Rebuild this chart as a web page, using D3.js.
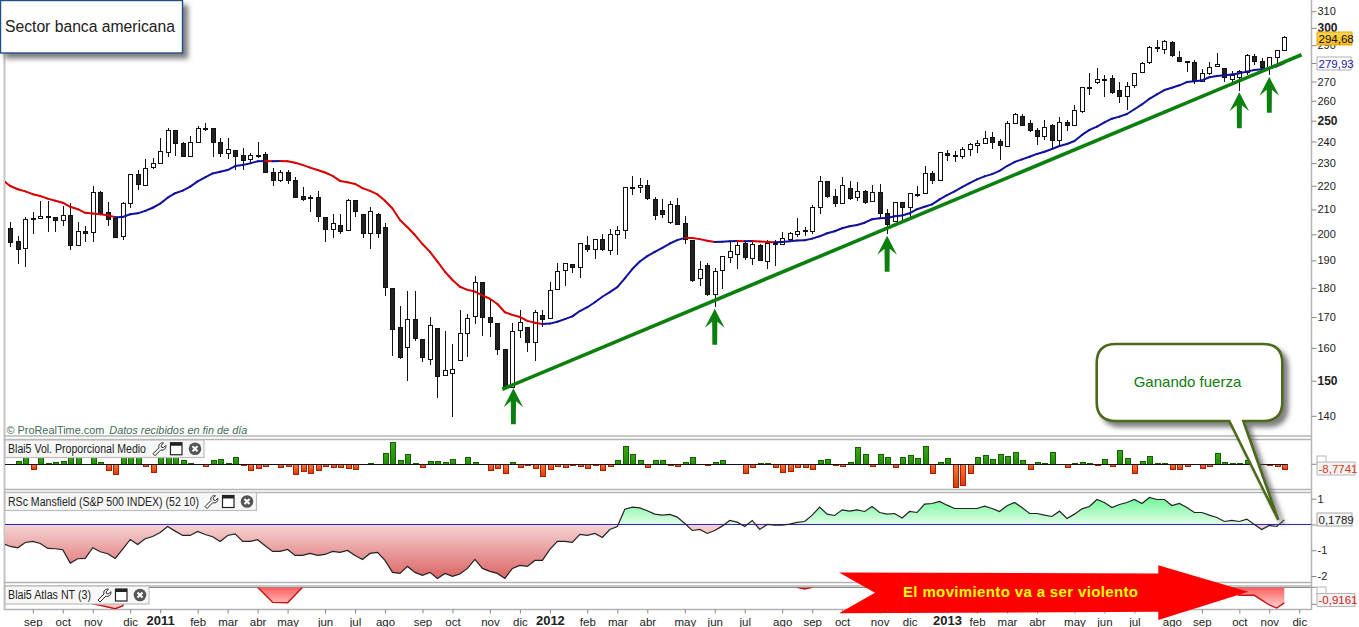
<!DOCTYPE html>
<html><head><meta charset="utf-8">
<script src="https://cdn.jsdelivr.net/npm/d3@7"></script>
<style>
html,body{margin:0;padding:0;background:#fff;overflow:hidden}
svg{display:block;font-family:"Liberation Sans",Arial,sans-serif}
</style></head><body><svg id="c" width="1359" height="627"></svg>
<script>
const opens=[202.4,197.3,194.4,206.4,206.2,207.2,206.8,205.6,207.6,195.9,
201.2,200.6,217.2,208.9,206.6,199.1,212.4,225,220.6,227.9,
229.9,235.2,245.4,239.1,232.9,239.6,246.5,246.3,239.6,234.5,
236.1,233.6,231.7,233.9,234,225.9,222.2,225.9,222.5,215.5,
215,215,206.8,202.2,203.6,201.4,213.8,208,200.2,208.2,
202.8,179.9,166.6,160.2,169.2,162.7,156.6,166.3,151.6,152.2,
156,164.6,170.2,182,169.9,167.9,159.5,148.2,165.9,166.6,
161.8,170.6,169.6,179.5,186.3,188.5,187.4,195.7,194.2,198.1,
193.8,200,201.6,219.5,219.4,220.2,214.2,209.7,204.8,211.7,
204.4,197.7,183.4,188.1,177.6,186.3,191.1,192.3,196.5,190.8,
195.7,189.6,196.5,196.1,198.1,200,201.6,201.2,210.9,221.9,
215.5,212.5,218.9,215,217.6,213.4,217.2,208.4,205.2,212.9,
210.9,216.5,216.8,225.4,222.4,234.5,233.6,233.1,236.3,238.2,
239.1,242,240.2,237.7,248.7,252.2,248.7,245.4,242.5,247.7,
240.6,249.2,247.7,254.7,266.9,269.6,271.2,271.7,265.3,262.3,
267.9,275,280.4,288.8,287.7,291.6,283.3,281,280.4,270.1,
274.4,278.2,277.1,271.2,272.3,275,283.8,281,277.1,283.3,
287.1];
const closes=[197.1,194.4,206,205.8,207.2,206.6,205.4,207.6,195.9,201.2,
200.6,217.2,208.6,206.2,199.1,212.5,225,220.6,227.9,229.9,
235.4,245.4,239.1,232.9,239.6,246.3,246.3,239.4,234.5,236.3,
233.4,231.4,233.6,233.5,225.7,222.2,225.9,222.2,215.3,214.3,
214.5,207.1,201.8,204.4,201.3,213.8,209.1,200.2,209.2,200.6,
180.4,166.1,157.2,169.2,162.9,157.2,167.3,151.2,153.1,153.4,
164.6,169.6,182,169.9,168.4,159.4,148.2,165.3,168.4,161.8,
171.6,169.1,179.2,185.9,188.9,187.4,196.5,194.2,198.1,194.2,
200,201.6,219.4,219.4,220.2,214.5,207.6,208.2,212.1,204.1,
198.1,182.8,186.7,177.6,185.9,191.5,193.4,195.7,191.1,196.1,
190,196.5,196.1,198.5,200.4,201.2,201.2,210.9,221.9,215.5,
212.5,220.2,214.6,217.6,212.9,217.2,208.4,204,212.9,210.9,
216.8,216.1,225.4,222.4,234.9,233.6,233.1,236.3,238.7,239.1,
241.5,239.6,238.2,248.7,253.2,247.7,245.4,242.5,246.8,240.6,
249.2,247.7,255.2,266.9,266.4,271.2,270.8,264.3,262.3,267.4,
274.4,279.9,288.8,288.3,292.1,284.4,281,280.4,270.1,274.4,
277.7,279.3,272.3,273.3,275.5,284.4,281,277.7,283.3,287.1,
294.68];
const highs=[204.8,199.4,206.8,209,213.5,213.5,206.8,211.4,212.5,204.9,
203.3,219.9,217.6,212.9,206.6,212.9,225,226.9,231.9,232.2,
241.5,246.3,245.4,239.9,242.6,247.4,248.7,246.3,241.5,241.5,
236.1,236.8,234.7,239.6,235.2,227.8,226.9,226.9,224,219.6,
216,217.8,206.8,208.2,208.2,214.2,213.8,208,210.9,208.4,
204.4,179.9,173.8,179,178.9,162.7,170,166.3,165.3,161.2,
172.3,170.9,184.1,182,175.8,167.9,159.5,167.9,172.3,166.6,
172.3,172.2,182,189.2,189.2,188.5,196.5,199.2,198.1,200,
202,203.3,219.4,224.3,223.2,222.4,215,214.2,213.4,214.6,
207.2,197.7,189.6,189.2,187,191.5,197.3,197.7,197.3,197.7,
196.1,197.7,197.7,200.8,200.8,206.4,202.8,211.7,224.1,221.9,
218.5,223.7,221.9,221.5,218.1,220.2,220.6,210.1,212.9,212.9,
216.8,219.8,228.5,226.3,234.9,235.9,235.4,237.3,239.1,240.6,
244.9,244.4,241,249.7,253.7,253.2,250.2,246.3,250.2,248.2,
251.7,250.2,257.7,266.9,274.4,277.1,273.3,273.3,269.6,269.6,
274.4,280.4,289.4,292.7,292.7,292.1,286.5,281,281.5,276.6,
280.4,285.4,277.1,275.5,276,284.9,284.9,282.7,283.3,287.1,
295.1];
const lows=[195.2,188.7,187.6,200.1,206.2,201,201,203.4,194,195.5,
197.1,197.1,208.4,203.4,199.1,197.9,210.7,218.3,220.6,227.3,
229.9,232.6,233.4,232.9,232.9,239.6,245.2,232.6,232.6,231.7,
226.9,226.9,230,232.2,225.7,220,221.6,220.9,214.8,213.6,
209.1,204.8,197.1,198.7,200.1,201.4,207.1,198.7,194.4,198.7,
177.3,157.5,156.6,150,162.3,155.7,154.8,145.1,151.6,139.8,
156,157.2,167.8,163.9,163.6,157.8,148.2,148.2,163,158.8,
156,166.6,169.6,179.5,180.8,185.2,183.6,193,190.4,193.4,
191.9,191.9,198.1,215.9,217,213.8,205.7,206.4,204,203.7,
196.1,182.2,180.8,177.3,173.3,179.7,189,186.9,190,188.4,
189.7,186.7,188,196.1,197.3,198.9,199.2,200,208,214.6,
210.9,212.5,213.8,213.4,212.1,213,206.4,200,205.2,205.6,
206.4,215,216.8,220.6,221.9,230.8,230.3,231.7,233.1,234.5,
238.7,236.3,231.3,237.3,248.2,247.3,244.4,238.2,240.6,236.8,
238.2,244.9,247.7,253.7,262.8,268.5,261.8,263.3,258.7,255.2,
266.4,274.4,279.3,286,284.9,283.3,280.4,275,268.5,270.1,
273.3,278.2,269.6,269,265.1,273.3,278.8,276.6,273.3,278.2,
287.1];
// moving average, first value belongs to the week before the first candle
const movingAvg=[222.3,219.9,218.5,217.6,216.4,215.6,214.5,213.6,212.8,211.1,210.1,
208.6,208.3,208,207.6,206.8,206.9,208,208.4,209.4,210.7,
212.4,214.9,216.8,217.9,219.6,221.9,223.7,225.4,226.1,226.9,
228.7,229.2,229.9,230.8,231,230.9,231,230.9,230.2,229.2,
228,226.9,225.8,224.3,222.1,221.5,220.8,219,217.8,216.3,
213.6,210.4,205.7,202.8,199.7,196.2,193.2,189.5,185.8,182.8,
180.4,179.3,178.7,177.4,176.2,174.4,171.6,170.7,170,168.7,
168.1,167.7,167.8,168.4,169.3,170.2,172,173.3,175,176.9,
178.5,180.3,183.4,186.8,189.6,191.6,193.2,194.7,196.4,197.7,
198.6,198.5,198.1,197.5,197,197.1,197.3,197.4,197.3,197.4,
197.2,197,196.9,197,197.3,197.6,197.7,198.3,199.2,200.4,
201.2,202.4,203.2,203.7,204.6,206,206.4,206.5,207.2,207.5,
208.4,210.1,211.1,212.1,214.2,216,217.6,219.4,221.1,222.8,
224.1,225.1,226.5,228.7,230.5,231.7,232.9,234.2,235.2,236.5,
237.9,238.8,240.2,243.1,245.5,247.1,249.2,251,252,253.3,
255.7,258.1,261,263.3,265.5,266.7,268,269.7,270.1,270.6,
272.3,273,273.3,273.7,274.4,275.3,276.2,276.6,277.1,278.2,
279.93];
const volume=[0,6.2,14,-9.3,14,2.5,4.4,5.6,14,14,
0,14,3.7,-11.8,-19.3,14,14,14,-4.4,-15.6,
14,14,14,7.5,2.5,0,-4.4,7.5,9.3,2.5,
13.1,-2.5,-11.2,-8.1,-4.4,0,-6.2,-4.4,-19.3,-13.7,
-17.4,-11.8,-4.4,-6.2,-6.2,-8.1,-10,0,2.5,0,
21.2,41.1,8.1,18.7,2.5,-6.2,6.2,6.2,4.4,9.3,
0,13.1,3.7,0,-11.8,-8.1,-17.4,3.7,-6.2,-1.9,
-7.5,-23,-10,-4.4,-6.2,-2.5,-4.4,-8.1,-2.5,-11.8,
-4.4,8.1,33.6,18.7,7.5,-6.2,7.5,7.5,-2.5,-4.4,
4.4,13.1,0,-2.5,3.7,7.5,0,0,-17.4,-6.2,
2.5,2.5,-6.2,-15.6,-13.7,-6.2,-6.2,-10,7.5,9.3,
-2.5,-4.4,3.7,32.4,18.7,-3.7,18.7,13.1,-6.2,13.1,
16.8,11.2,33.6,-17.4,3.7,11.2,-43.6,-39.9,-17.4,13.1,
16.8,9.3,18.7,15,22.4,7.5,-9.3,3.7,1.9,22.4,
0,-6.2,1.9,3.7,1.9,-1.9,9.3,-4.4,26.2,11.2,
-17.4,5.6,15,1.9,1.9,-9.3,-9.3,-3.7,0,-7.5,
-4.4,20.6,3.7,1.9,1.9,7.5,6,0,-1.9,-3.7,
-8.7741];
// RSc Mansfield, first value belongs to the week before the first candle
const mansfield=[-.736,-.853,-.904,-.698,-.659,-.736,-.93,-.943,-.982,-1.499,-1.331,
-1.318,-.904,-1.059,-1.137,-1.318,-.956,-.581,-.775,-.556,-.465,
-.31,-.078,-.258,-.426,-.426,-.271,-.388,-.478,-.659,-.426,
-.362,-.659,-.659,-.594,-.827,-1.047,-1.047,-.969,-1.202,-1.202,
-1.124,-1.202,-1.163,-1.047,-1.085,-1.008,-1.202,-1.357,-1.124,-1.085,
-1.395,-1.86,-1.899,-1.628,-1.86,-1.977,-1.86,-2.093,-1.899,-2.016,
-1.925,-1.705,-1.357,-1.705,-1.822,-1.899,-2.093,-1.705,-1.589,-1.628,
-1.395,-1.395,-.969,-.659,-.659,-.698,-.388,-.426,-.349,-.504,
-.194,-.078,.594,.672,.646,.53,.401,.362,.388,.284,
.039,-.233,-.194,-.349,-.233,-.065,.155,.09,-.078,.155,
-.194,0,-.026,-.026,.013,.078,.116,.362,.672,.401,
.349,.568,.517,.568,.504,.698,.465,.401,.426,.25,
.504,.465,.788,.814,.891,.749,.62,.62,.62,.62,
.711,.62,.504,.724,.853,.659,.426,.426,.362,.31,
.517,.233,.401,.607,.698,.969,.853,.659,.775,.853,
.969,.814,1.047,.969,.969,.736,.814,.659,.465,.465,
.362,.271,.116,.155,.116,.207,0,-.194,-.039,-.078,
.1789];
const atlasSpanA=[[10,0],[11,-.98],[12,-1.06],[13,-1.16],[14,-1.26],[15,-1.1],[16,0]];
const atlasSpanB=[[33,0],[34,-.44],[35,-.89],[36,-.9],[37,-.91],[38,-.45],[39,0]];
const atlasSpanC=[[105,0],[106,-.1],[107,0]];
const atlasSpanD=[[162,0],[163,-.3],[164,-.47],[165,-.47],[166,-.47],[167,-.75],[168,-1.04],[169,-1.22],[170,-.9161]];
const priceTicks=[140,150,160,170,180,190,200,210,220,230,240,250,260,270,280,290,300,310];
const boldPrices=[150,250,300];
const timeIndex=[3,7,11,16,20,25,29,33,37,42,46,50,55,59,64,68,72,77,81,85,90,94,98,103,107,111,116,120,125,129,133,137,142,146,150,155,159,164,168,172];
const timeLabels=["sep","oct","nov","dic","2011","feb","mar","abr","may","jun","jul","ago","sep","oct","nov","dic","2012","feb","mar","abr","may","jun","jul","ago","sep","oct","nov","dic","2013","feb","mar","abr","may","jun","jul","ago","sep","oct","nov","dic"];
const arrowCandles=[67,94,117,164,168];
const trendIndex=[65.65,172.3];
const trendPrice=[147.5,284.6];
const mansfieldTicks=[1,0,-1,-2];

const svg=d3.select("#c");
const defs=svg.append("defs");
const L=5,R=1311.5;
const x=d3.scaleLinear().domain([0,170]).range([10.3,1284.3]);
const y=d3.scaleLog().domain([150,300]).range([380.7,27.9]);
const yVol=d3.scaleLinear().domain([-44.3,45.4]).range([488,440]);
const yRS=d3.scaleLinear().domain([-2,1]).range([576,498.7]);
const yAt=d3.scaleLinear().domain([-1,0]).range([604.3,587.3]);

function lg(id,stops,y1,y2){const g=defs.append("linearGradient").attr("id",id);
 if(y1!==undefined){g.attr("gradientUnits","userSpaceOnUse").attr("x1",0).attr("x2",0).attr("y1",y1).attr("y2",y2)}
 else g.attr("x1",0).attr("x2",0).attr("y1",0).attr("y2",1);
 stops.forEach(s=>g.append("stop").attr("offset",s[0]).attr("stop-color",s[1]));}
const z=yRS(0),t=yRS(1.05),b=yRS(-2.1),off=(z-t)/(b-t);
lg("rs",[[0,"#6cf896"],[off,"#e4fde9"],[off,"#f6d4d4"],[1,"#dc6464"]],t,b);
lg("at",[[0,"#ff5c5c"],[1,"#ffd8d8"]],587.3,609);
lg("vg",[[0,"#3aa814"],[1,"#1f8a0a"]]);
lg("vr",[[0,"#ff7a30"],[1,"#d83a10"]]);
lg("gold",[[0,"#ffd850"],[1,"#f6b820"]]);
defs.append("clipPath").attr("id","pc").append("rect").attr("x",L).attr("y",0).attr("width",R-L).attr("height",437);
defs.append("clipPath").attr("id","rc").append("rect").attr("x",L).attr("y",493).attr("width",R-L).attr("height",90);
defs.append("clipPath").attr("id","ac").append("rect").attr("x",L).attr("y",587.5).attr("width",R-L).attr("height",22);
const sh=defs.append("filter").attr("id","sh").attr("x","-15%").attr("y","-15%").attr("width","135%").attr("height","135%");
sh.append("feDropShadow").attr("dx",5).attr("dy",5).attr("stdDeviation",2.5).attr("flood-color","#555").attr("flood-opacity",.75);

// panel frames
const frame="#b4b4b4";
function hl(yy,c,w){svg.append("line").attr("x1",L-1).attr("x2",R).attr("y1",yy).attr("y2",yy).attr("stroke",c||frame).attr("stroke-width",w||1.5);}
svg.append("rect").attr("x",3.5).attr("y",0).attr("width",2).attr("height",610).attr("fill","#c4c4c4");
[436,439.5,489.5,492.5,582.5,586].forEach(v=>hl(v));
hl(587.5,"#8c8c8c",1);hl(609.5);
svg.append("line").attr("x1",R).attr("x2",R).attr("y1",0).attr("y2",610).attr("stroke",frame).attr("stroke-width",1.5);

// y axis
const yAxis=d3.axisRight(y).tickValues(priceTicks).tickSize(5).tickFormat(d3.format("d"));
const gy=svg.append("g").attr("transform",`translate(${R},0)`).call(yAxis);
gy.select(".domain").remove();
gy.selectAll(".tick line").attr("stroke","#888");
gy.selectAll(".tick text").attr("x",6).attr("font-size",11).attr("font-family","Liberation Sans").attr("fill","#222")
  .attr("font-weight",d=>boldPrices.includes(d)?"bold":"normal").attr("font-size",d=>boldPrices.includes(d)?12:11);

// copyright
const cr=svg.append("text").attr("x",6.5).attr("y",434).attr("font-size",10.9).attr("fill","#3f6b55");
cr.append("tspan").text("© ProRealTime.com");
cr.append("tspan").attr("dx",5).attr("font-style","italic").text("Datos recibidos en fin de día");

// candles
const main=svg.append("g").attr("clip-path","url(#pc)");
const idx=d3.range(opens.length);
main.append("g").selectAll("line").data(idx).join("line")
 .attr("x1",i=>Math.round(x(i))+.5).attr("x2",i=>Math.round(x(i))+.5)
 .attr("y1",i=>y(highs[i])).attr("y2",i=>y(lows[i]))
 .attr("stroke","#111").attr("stroke-width",1).attr("shape-rendering","crispEdges");
main.append("g").selectAll("rect").data(idx).join("rect")
 .attr("x",i=>Math.round(x(i))-1.5).attr("width",4)
 .attr("y",i=>Math.round(y(Math.max(opens[i],closes[i])))+.5)
 .attr("height",i=>Math.max(1,Math.round(Math.abs(y(opens[i])-y(closes[i])))))
 .attr("fill",i=>closes[i]>opens[i]?"#fff":"#222")
 .attr("stroke","#111").attr("stroke-width",1).attr("shape-rendering","crispEdges");

// moving average coloured by direction
const maLine=d3.line().x(d=>x(d[0])).y(d=>y(d[1]));
main.append("g").selectAll("path").data(d3.range(1,movingAvg.length)).join("path")
 .attr("d",k=>maLine([[k-2,movingAvg[k-1]],[k-1,movingAvg[k]]]))
 .attr("fill","none").attr("stroke-width",2).attr("stroke-linecap","round")
 .attr("stroke",k=>movingAvg[k]>movingAvg[k-1]?"#10109c":"#d60000");

// trend line
svg.append("line").attr("x1",x(trendIndex[0])).attr("x2",x(trendIndex[1])).attr("y1",y(trendPrice[0])).attr("y2",y(trendPrice[1]))
 .attr("stroke","#0c800e").attr("stroke-width",3.6);
// up arrows, tip at the low of the candle
svg.append("g").selectAll("path").data(arrowCandles).join("path")
 .attr("d",i=>{const a=x(i)+(i==67?1:0),c=y(lows[i])+1.5;return `M${a},${c}L${a+9.8},${c+19}L${a+2.6},${c+13}L${a+2.4},${c+36}L${a-2.4},${c+36}L${a-2.6},${c+13}L${a-9.8},${c+19}Z`;})
 .attr("fill","#0c800e");

// volume
const vb=svg.append("g");
vb.selectAll("rect").data(idx.filter(i=>volume[i]!==0)).join("rect")
 .attr("x",i=>Math.round(x(i))-2).attr("width",5)
 .attr("y",i=>Math.round(Math.min(yVol(volume[i]),yVol(0)))+.5)
 .attr("height",i=>Math.max(1,Math.round(Math.abs(yVol(volume[i])-yVol(0)))))
 .attr("fill",i=>volume[i]>0?"url(#vg)":"url(#vr)")
 .attr("stroke",i=>volume[i]>0?"#136004":"#a82000").attr("stroke-width",1).attr("shape-rendering","crispEdges");
svg.append("line").attr("x1",L).attr("x2",x(170)+3).attr("y1",Math.round(yVol(0))+.5).attr("y2",Math.round(yVol(0))+.5).attr("stroke","#111").attr("stroke-width",1);

// Mansfield
const rs=svg.append("g").attr("clip-path","url(#rc)");
const rsA=d3.area().x((d,k)=>x(k-1)).y0(yRS(0)).y1(d=>yRS(d));
rs.append("path").attr("d",rsA(mansfield)).attr("fill","url(#rs)");
rs.append("line").attr("x1",L).attr("x2",R).attr("y1",yRS(0)).attr("y2",yRS(0)).attr("stroke","#2222c8").attr("stroke-width",1);
rs.append("path").attr("d",d3.line().x((d,k)=>x(k-1)).y(d=>yRS(d))(mansfield)).attr("fill","none").attr("stroke","#222").attr("stroke-width",1.2);
const gr=svg.append("g").attr("transform",`translate(${R},0)`).call(d3.axisRight(yRS).tickValues(mansfieldTicks).tickSize(5).tickFormat(d=>d===0?"":String(d)));
gr.select(".domain").remove();
gr.selectAll(".tick line").attr("stroke","#888");
gr.selectAll(".tick text").attr("x",6).attr("font-size",11).attr("font-family","Liberation Sans").attr("fill","#222");

// Atlas
const at=svg.append("g").attr("clip-path","url(#ac)");
[atlasSpanA,atlasSpanB,atlasSpanC,atlasSpanD].forEach(s=>{
 at.append("path").attr("d",d3.area().x(d=>x(d[0])).y0(yAt(0)).y1(d=>yAt(d[1]))(s)).attr("fill","url(#at)");
 at.append("path").attr("d",d3.line().x(d=>x(d[0])).y(d=>yAt(d[1]))(s)).attr("fill","none").attr("stroke","#c81010").attr("stroke-width",1.4);
});
svg.append("line").attr("x1",R).attr("x2",R+5).attr("y1",yAt(-1)).attr("y2",yAt(-1)).attr("stroke","#888");
svg.append("line").attr("x1",R).attr("x2",R+5).attr("y1",yAt(0)).attr("y2",yAt(0)).attr("stroke","#888");
svg.append("line").attr("x1",R).attr("x2",R+5).attr("y1",yVol(0)).attr("y2",yVol(0)).attr("stroke","#888");

// x axis
const gx=svg.append("g").attr("transform","translate(0,609.5)").call(d3.axisBottom(x).tickValues(timeIndex).tickSize(4).tickFormat((d,k)=>timeLabels[k]));
gx.select(".domain").remove();
gx.selectAll(".tick line").attr("stroke","#888");
gx.selectAll(".tick text").attr("font-family","Liberation Sans").attr("fill","#222")
 .attr("y",(d,k)=>/^\d/.test(timeLabels[k])?6:8)
 .attr("font-size",(d,k)=>/^\d/.test(timeLabels[k])?13:11.5)
 .attr("font-weight",(d,k)=>/^\d/.test(timeLabels[k])?"bold":"normal");

// legend boxes
function icons(g,ix,iy){
 const w=g.append("g").attr("transform",`translate(${ix},${iy})`);
 w.append("path").attr("d","M1,11.5L7,5.5C6,2.5 8.5,0 11.5,0.8L9,3.2L9.5,5L11.5,5.5L13.8,3.2C14.4,6.5 11.8,8.6 8.8,7.6L3,13.5Z").attr("fill","#fff").attr("stroke","#222").attr("stroke-width",1);
 const s=g.append("g").attr("transform",`translate(${ix+18},${iy})`);
 s.append("rect").attr("x",.5).attr("y",.5).attr("width",11.5).attr("height",12).attr("fill","#fff").attr("stroke","#222").attr("stroke-width",1.2);
 s.append("rect").attr("x",.5).attr("y",.5).attr("width",11.5).attr("height",3).attr("fill","#222");
 const c=g.append("g").attr("transform",`translate(${ix+43},${iy+6.5})`);
 c.append("circle").attr("r",6.3).attr("fill","#555");
 c.append("path").attr("d","M-2.5,-2.5L2.5,2.5M2.5,-2.5L-2.5,2.5").attr("stroke","#fff").attr("stroke-width",2);
}
function legend(txt,xr,yt,h,ix,tw){
 const g=svg.append("g");
 g.append("rect").attr("x",5).attr("y",yt).attr("width",xr-5).attr("height",h).attr("fill","#f7f7f7").attr("stroke","#bdbdbd").attr("stroke-width",1.2);
 g.append("text").attr("x",8).attr("y",yt+h/2+4.3).attr("font-size",12).attr("fill","#222").attr("textLength",tw).attr("lengthAdjust","spacingAndGlyphs").text(txt);
 icons(g,ix,yt+h/2-6.5);
}
legend("Blai5 Vol. Proporcional Medio",204,440,17.5,152,138);
legend("RSc Mansfield (S&P 500 INDEX) (52 10)",256.5,492.5,18,204,191);
legend("Blai5 Atlas NT (3)",149,586,18,97,83);

// value boxes
function vbox(txt,yt,w,fill,stroke,col){
 const g=svg.append("g");
 g.append("rect").attr("x",1317).attr("y",yt).attr("width",w).attr("height",13).attr("fill",fill).attr("stroke",stroke).attr("stroke-width",1);
 g.append("text").attr("x",1318.5).attr("y",yt+10.5).attr("font-size",11.5).attr("fill",col).text(txt);
}
svg.append("rect").attr("x",1317).attr("y",456).attr("width",9).attr("height",8).attr("fill","#fff").attr("stroke","#b4b4b4");
svg.append("rect").attr("x",1317).attr("y",587).attr("width",9).attr("height",8).attr("fill","#fff").attr("stroke","#b4b4b4");
vbox("294,68",32,35,"url(#gold)","#e0a810","#111");
vbox("279,93",57,34,"#fff","#b0b0b0","#1818a8");
vbox("-8,7741",462,38,"#f2f2f2","#b8b8b8","#d04020");
vbox("0,1789",513,35,"#f6f6f6","#a8a8a8","#222");
vbox("-0,9161",593.5,38,"#f2f2f2","#b8b8b8","#d02020");

// title box
const tb=svg.append("g");
tb.append("rect").attr("x",.5).attr("y",.5).attr("width",182).attr("height",52.5).attr("fill","#fff").attr("stroke","#1c4f85").attr("stroke-width",1.4).attr("filter","url(#sh)");
tb.append("text").attr("x",5).attr("y",32).attr("font-size",16).attr("fill","#222").attr("textLength",170).attr("lengthAdjust","spacingAndGlyphs").text("Sector banca americana");

// red arrow
svg.append("path").attr("d","M839,572.5L1158.3,573.5L1158.3,565.3L1248.3,591.7L1158.3,620L1158.3,611.7L839,613.3L875,592.7Z").attr("fill","#ff0000");
svg.append("text").attr("x",903).attr("y",597).attr("font-size",15).attr("font-weight","bold").attr("fill","#ffff00").attr("textLength",235).attr("lengthAdjust","spacing").text("El movimiento va a ser violento");

// callout
svg.append("path").attr("d","M1116,344H1263Q1282.3,344 1282.3,363V402Q1282.3,421 1263,421H1243.3L1278.3,520L1229.3,421H1116Q1096.7,421 1096.7,402V363Q1096.7,344 1116,344Z")
 .attr("fill","#fff").attr("stroke","#4e6b1c").attr("stroke-width",2.6).attr("filter","url(#sh)");
svg.append("text").attr("x",1187.5).attr("y",387).attr("text-anchor","middle").attr("font-size",15).attr("fill","#117a11").text("Ganando fuerza");
</script></body></html>
